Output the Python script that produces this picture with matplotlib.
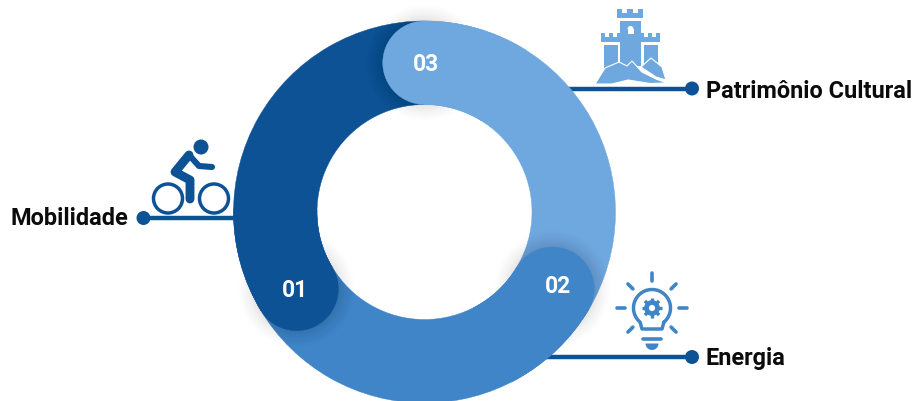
#!/usr/bin/env python
"""Three-part ring diagram with rounded segment heads and labelled icons."""
import matplotlib
matplotlib.use("Agg")
import matplotlib.pyplot as plt
from matplotlib.patches import Circle, Polygon, Rectangle, Wedge
import numpy as np

DARK = "#0E5296"
MID = "#3F85C8"
LIGHT = "#6FA8DE"

# segments in clockwise order, sizes in degrees of sweep
segment_labels = ["01", "03", "02"]
segment_values = [121, 121, 118]
segment_colors = [DARK, LIGHT, MID]
label_nudge = [(-2, 0), (2, 0), (6, -4)]

topics = ["Mobilidade", "Patrimônio Cultural", "Energia"]

CX, CY = 424.5, 213
R_OUT, R_IN = 191, 107.5
R_MID = (R_OUT + R_IN) / 2
CAP = (R_OUT - R_IN) / 2
START = 211


def ring_part(ax, a0, a1, color, z):
    # a0 > a1, both counter-clockwise on screen; y axis is flipped
    ax.add_patch(Wedge((CX, CY), R_OUT, -a0, -a1, width=R_OUT - R_IN,
                       fc=color, ec=color, lw=0.3, zorder=z))


def cap_pos(a):
    return CX + R_MID * np.cos(np.radians(a)), CY - R_MID * np.sin(np.radians(a))


def draw_ring(ax):
    total = sum(segment_values)
    angle = START
    parts = []
    for lab, val, col, nudge in zip(segment_labels, segment_values, segment_colors, label_nudge):
        sweep = 360 * val / total
        parts.append((lab, angle, angle - sweep, col, nudge))
        angle -= sweep

    for lab, a0, a1, col, nudge in parts:
        ring_part(ax, a0, a1, col, 2)

    # soft shadow under each head, then the head on top of it
    z = 3
    for lab, a0, a1, col, nudge in parts:
        x, y = cap_pos(a0)
        for i in range(12):
            ax.add_patch(Circle((x, y), CAP + 17 - i * 1.5, fc="#000000", ec="none",
                                alpha=0.005 + 0.0008 * i, zorder=z))
        ring_part(ax, a0, a0 - 32, col, z + 0.1)
        ax.add_patch(Circle((x, y), CAP, fc=col, ec=col, lw=0.3, zorder=z + 0.2))
        ax.text(x + nudge[0], y + 1 + nudge[1], lab, color="white", fontsize=16.5,
                fontweight="bold", ha="center", va="center", zorder=z + 0.3)
        z += 1


def leader(ax, x0, x1, y):
    ax.plot([x0, x1], [y, y], color=DARK, lw=3.2, solid_capstyle="butt", zorder=1)
    ax.add_patch(Circle((x1, y), 7, fc=DARK, ec="none", zorder=1))


def draw_cyclist(ax):
    ax.add_patch(Circle((201, 148), 7.5, fc=DARK, ec="none", zorder=1))
    for x in (168, 214):
        ax.add_patch(Circle((x, 199.5), 14.5, fc="none", ec=DARK, lw=2.5, zorder=1))
    ax.plot([189, 175, 190, 190], [156, 173, 181, 200], color=DARK, lw=6.4,
            solid_capstyle="round", solid_joinstyle="round", zorder=1)
    ax.plot([189, 199, 212], [156, 167, 168], color=DARK, lw=4.4,
            solid_capstyle="round", solid_joinstyle="round", zorder=1)


def battlement(ax, x0, x1, y0, y1):
    w = (x1 - x0) / 5
    ax.add_patch(Rectangle((x0, y0 + 4), x1 - x0, y1 - y0 - 4, fc=LIGHT, ec="none", zorder=1))
    for k in (0, 2, 4):
        ax.add_patch(Rectangle((x0 + k * w, y0), w, 5, fc=LIGHT, ec="none", zorder=1))


def draw_castle(ax):
    battlement(ax, 617, 643, 10, 19)
    ax.add_patch(Rectangle((620, 21.5), 21, 45, fc=LIGHT, ec="none", zorder=1))
    ax.add_patch(Wedge((630.5, 30), 3, 180, 360, fc="white", ec="none", zorder=1.1))
    ax.add_patch(Rectangle((627.5, 30), 6, 5, fc="white", ec="none", zorder=1.1))
    battlement(ax, 601, 621, 34, 43)
    ax.add_patch(Rectangle((603.5, 45.5), 14, 28, fc=LIGHT, ec="none", zorder=1))
    battlement(ax, 640, 660, 34, 43)
    ax.add_patch(Rectangle((643.5, 45.5), 14, 20, fc=LIGHT, ec="none", zorder=1))
    # rocks with a white edge
    right = [(641, 68), (651, 59), (662, 68), (666, 81), (656, 78)]
    ax.add_patch(Polygon(right, fc=LIGHT, ec="white", lw=0.8, zorder=1.2))
    front = [(595, 85), (605, 69), (619, 63), (627, 67), (632, 62), (642, 73),
             (656, 80), (667, 84), (650, 84.5), (628, 81), (612, 85)]
    ax.add_patch(Polygon(front, fc=LIGHT, ec="white", lw=0.8, zorder=1.3))


def draw_bulb(ax):
    bx, by = 652, 309
    kw = dict(color=MID, solid_capstyle="round", zorder=1)
    # outline: arc over the top, straight down to the neck
    t = np.radians(np.linspace(-50, 230, 60))
    xs = bx + 18.5 * np.cos(t)
    ys = by - 18.5 * np.sin(t)
    xs = np.concatenate([xs, [bx - 10, bx + 10, xs[0]]])
    ys = np.concatenate([ys, [by + 21, by + 21, ys[0]]])
    ax.plot(xs, ys, lw=2.5, solid_joinstyle="round", **kw)
    ax.plot([bx - 9, bx + 9], [339.5, 339.5], lw=2.6, **kw)
    ax.add_patch(Wedge((bx, 344.5), 6.5, 0, 180, fc=MID, ec="none", zorder=1))
    # rays
    for ang in range(0, 360, 45):
        if ang == 270:
            continue
        c, s = np.cos(np.radians(ang)), np.sin(np.radians(ang))
        r0, r1 = (27, 35) if ang % 90 == 0 else (27, 34)
        ax.plot([bx + r0 * c, bx + r1 * c], [by - r0 * s, by - r1 * s], lw=2.6, **kw)
    # gear
    ax.add_patch(Circle((bx, by), 5.5, fc="none", ec=MID, lw=3.4, zorder=1))
    for ang in np.arange(0, 360, 45):
        c, s = np.cos(np.radians(ang)), np.sin(np.radians(ang))
        ax.plot([bx + 6 * c, bx + 10 * c], [by + 6 * s, by + 10 * s], lw=2.4,
                color=MID, solid_capstyle="butt", zorder=1)


def main():
    plt.rcParams["font.family"] = ["Roboto", "DejaVu Sans"]
    fig = plt.figure(figsize=(9.14, 4.02), dpi=100)
    ax = fig.add_axes([0, 0, 1, 1])
    ax.set_xlim(0, 914)
    ax.set_ylim(402, 0)
    ax.axis("off")

    leader(ax, 240, 143.5, 219)
    leader(ax, 560, 692, 89.5)
    leader(ax, 540, 692, 358)

    draw_ring(ax)
    draw_cyclist(ax)
    draw_castle(ax)
    draw_bulb(ax)

    label_kw = dict(color="#0b0b0b", fontsize=16.9, fontweight="bold", va="center")
    ax.text(128, 218.5, topics[0], ha="right", **label_kw)
    ax.text(705.5, 91.5, topics[1], ha="left", **label_kw)
    ax.text(705.5, 358.5, topics[2], ha="left", **label_kw)

    fig.savefig("out.png", dpi=100)
    plt.close(fig)


if __name__ == "__main__":
    main()
